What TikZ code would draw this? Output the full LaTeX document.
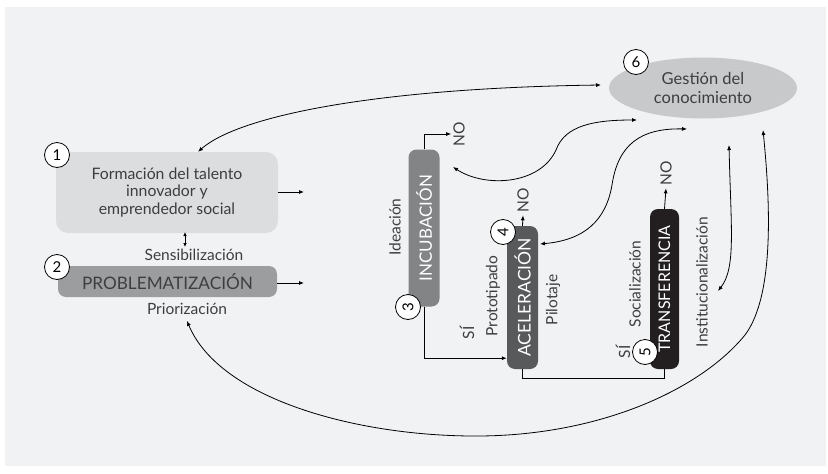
\documentclass[tikz,border=0pt]{standalone}
\usepackage{fontspec}
\setmainfont{Lato}
\usetikzlibrary{arrows.meta,shapes.geometric}
\definecolor{panelgray}{HTML}{F1F2F4}
\definecolor{talentgray}{HTML}{DCDDDF}
\definecolor{probgray}{HTML}{9C9D9F}
\definecolor{incubgray}{HTML}{838486}
\definecolor{acelgray}{HTML}{58595B}
\definecolor{transfblack}{HTML}{231F20}
\definecolor{gestiongray}{HTML}{C8C9CB}
\definecolor{textgray}{HTML}{3E3E3F}
\tikzset{
  fs/.style={font=\fontsize{#1}{#1}\selectfont},
  lbl/.style={text=textgray, inner sep=0pt, fs=15.5},
  vlbl/.style={lbl, rotate=90},
  numcirc/.style={circle, draw, fill=white, line width=0.8pt, minimum size=25pt,
    inner sep=0pt, fs=15},
  stagebox/.style={rounded corners=8pt, rotate=90, text=white, inner sep=0pt,
    minimum height=31pt, fs=17},
  arr/.style={line width=0.8pt, -{Latex[length=5pt,width=4pt]}},
  dbl/.style={line width=0.8pt, {Latex[length=5pt,width=4pt]}-{Latex[length=5pt,width=4pt]}}
}
\begin{document}
\begin{tikzpicture}[x=1pt, y=-1pt]
  \useasboundingbox (0,0) rectangle (828,474);
  % panel
  \fill[panelgray] (5,7) rectangle (826,466);

  % left boxes
  \node[fill=talentgray, rounded corners=12pt, minimum width=222pt, minimum height=81pt,
    align=center, text=textgray, fs=15.8] (talento) at (167,192.5)
    {Formación del talento\\[2pt]innovador y\\[2pt]emprendedor social};
  \node[fill=probgray, rounded corners=8pt, minimum width=219pt, minimum height=31pt,
    text=textgray, fs=17.2] (problem) at (167.5,281.5) {PROBLEMATIZACIÓN};
  \node[numcirc] (c1) at (57,155) {1};
  \node[numcirc] (c2) at (57,267) {2};
  \node[lbl] (sensib) at (194,255) {Sensibilización};
  \node[lbl] (prior) at (187,309) {Priorización};
  \coordinate (talento out) at (304,192);
  \coordinate (problem out) at (304,283);
  \draw[arr] (talento.east |- talento out) -- (talento out);
  \draw[arr] (problem.east |- problem out) -- (problem out);
  \draw[line width=0.7pt, {Latex[length=4pt,width=3.5pt]}-{Latex[length=4pt,width=3.5pt]}]
    (185,232) -- (185,247);

  % stages
  \node[stagebox, fill=incubgray, minimum width=157pt] (incub) at (424,228) {INCUBACIÓN};
  \node[stagebox, fill=acelgray, minimum width=143pt, fs=17.5] (acel) at (522.5,297.5) {ACELERACIÓN};
  \node[stagebox, fill=transfblack, minimum width=160pt, minimum height=29pt, fs=16]
    (transf) at (664.5,289) {TRANSFERENCIA};
  \node[numcirc, rotate=90] (c3) at (408,307) {3};
  \node[numcirc, rotate=90] (c4) at (503,232) {4};
  \node[numcirc, rotate=90] (c5) at (645,352) {5};

  % rotated labels
  \node[vlbl] (ideacion) at (395,227) {Ideación};
  \node[vlbl] (si1) at (467,333) {SÍ};
  \node[vlbl] (prototip) at (493,296) {Prototipado};
  \node[vlbl] (pilotaje) at (553,300) {Pilotaje};
  \node[vlbl] (si2) at (623,352) {SÍ};
  \node[vlbl] (social) at (635,284) {Socialización};
  \node[vlbl] (instit) at (702,282) {Institucionalización};
  \node[vlbl] (no1) at (459,134) {NO};
  \node[vlbl] (no2) at (523,200) {NO};
  \node[vlbl] (no3) at (666,173) {NO};

  % stage connectors
  \draw[arr] (incub.east) |- ([xshift=-2pt]no1.north);
  \draw[arr] (incub.west) |- ([yshift=11pt]acel.north west);
  \draw[arr] (acel.east) -- ([yshift=-3pt]no2.west);
  \draw[line width=0.8pt] (acel.west) -- ++(0,9) -| (transf.west);
  \draw[arr] (transf.east) -- ([yshift=-3pt]no3.west);

  % gestion
  \node[ellipse, fill=gestiongray, minimum width=188pt, minimum height=61pt, align=center,
    text=textgray, fs=16.5, inner sep=0pt] (gestion) at (703,88) {Gestión del\\[2pt]conocimiento};
  \node[numcirc] (c6) at (636,62) {6};

  % feedback curves
  \coordinate (g1) at (601,85);
  \coordinate (g2) at (637,120);
  \coordinate (g3) at (687,129);
  \coordinate (g4) at (729,145);
  \coordinate (g5) at (763,130);
  \coordinate (incub in) at (453,167);
  \coordinate (acel in) at (540,244);
  \coordinate (instit in) at (718,291);
  \draw[dbl] ([xshift=31pt]talento.north) .. controls (240,115) and (380,88) .. (g1);
  \draw[dbl] (incub in) .. controls (485,188) and (540,185) .. (556,150)
    .. controls (565,125) and (595,120) .. (g2);
  \draw[dbl] (acel in) .. controls (585,240) and (606,220) .. (612,185)
    .. controls (618,145) and (640,128) .. (g3);
  \draw[dbl] (g4) .. controls (731,230) and (736,268) .. (instit in);
  \draw[dbl] ([yshift=-6pt]prior.south) .. controls (220,400) and (360,437) .. (480,436)
    .. controls (600,435) and (700,390) .. (745,335)
    .. controls (775,295) and (770,200) .. (g5);
\end{tikzpicture}
\end{document}
